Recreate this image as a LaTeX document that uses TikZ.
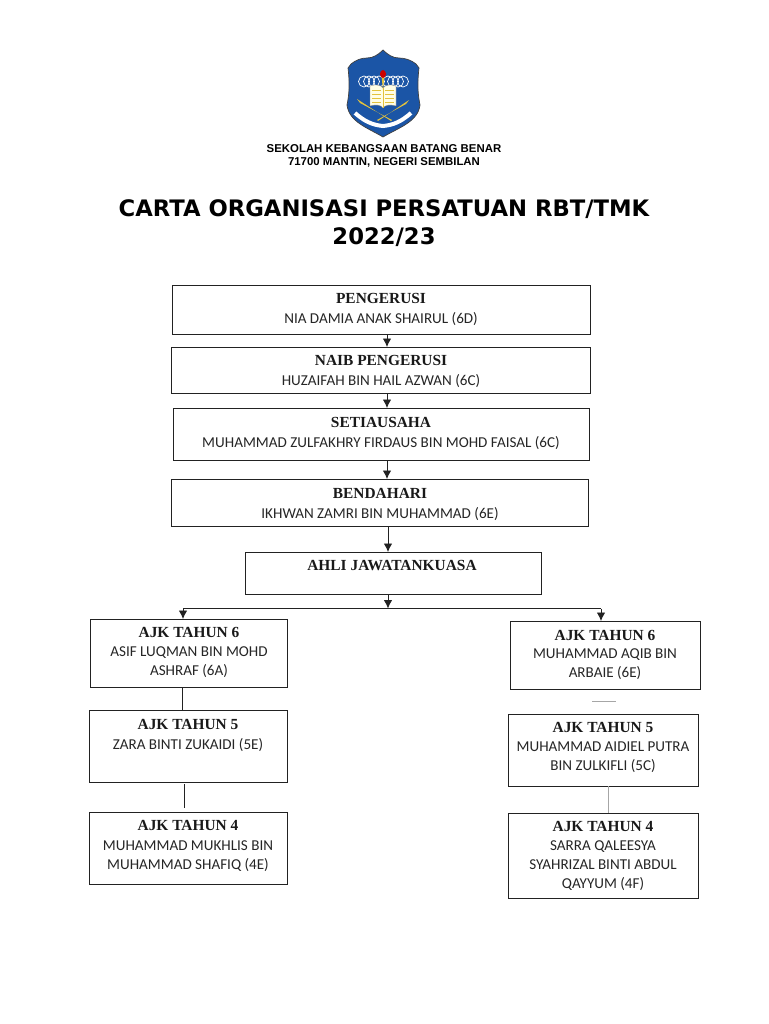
\documentclass[tikz,border=0pt]{standalone}
\usepackage{fontspec}
\setmainfont{Liberation Serif}
\newfontfamily\schoolf{Liberation Sans}
\newfontfamily\titlef{DejaVu Sans}
\newfontfamily\namef{Carlito}
\definecolor{shieldblue}{HTML}{1B55A6}
\definecolor{shieldgold}{HTML}{E3C23C}
\definecolor{edgeblack}{HTML}{222222}
\usetikzlibrary{arrows.meta}
\tikzset{
  orgbox/.style={draw=edgeblack,line width=0.9pt,fill=white,inner sep=0pt,outer sep=0pt},
  headtext/.style={font=\fontsize{15.4}{16}\selectfont\bfseries,text=black!90,inner sep=0pt},
  nametext/.style={font=\namef\fontsize{15.1}{19.3}\selectfont,text=black!85,align=center,inner sep=0pt,anchor=north,yshift=-3.7pt},
  arr/.style={draw=edgeblack,line width=0.9pt,-{Latex[length=8.5pt,width=8.5pt]}},
  plain/.style={draw=edgeblack,line width=0.8pt},
  faint/.style={draw=black!35,line width=1pt}
}
\newcommand{\orgnode}[5]{% name, left, top, right, bottom
  \node[orgbox,minimum width=#4pt-#2pt,minimum height=#5pt-#3pt,anchor=north west] (#1) at (#2,#3) {};}
\begin{document}
\begin{tikzpicture}[x=1pt,y=-1pt]
\useasboundingbox[fill=white] (0,0) rectangle (768,1024);
% crest
\fill[shieldblue,draw=black!75,line width=0.7pt] (383,50) .. controls (378,55) and (373,58) .. (367,58)
  .. controls (361,58) and (356,60) .. (351,64) -- (348,68)
  .. controls (350,85) and (349,95) .. (347,105) .. controls (349,122) and (368,128) .. (383,137)
  .. controls (398,128) and (418,122) .. (420,105) .. controls (418,95) and (417,85) .. (419,68) -- (416,64)
  .. controls (411,60) and (405,58) .. (399,58) .. controls (393,58) and (388,55) .. (383,50) -- cycle;
\foreach \cx in {364,369,374,379,388,393,398,403}{\draw[white,line width=0.7pt] (\cx,81.5) circle (5.5);}
\fill[white!90!yellow,draw=black!50,line width=0.3pt] (370,86) .. controls (376,84) and (381,85) .. (383,88) .. controls (385,85) and (390,84) .. (396,86) -- (396,106) .. controls (390,104) and (385,105) .. (383,108) .. controls (381,105) and (376,104) .. (370,106) -- cycle;
\draw[shieldgold,line width=0.4pt] (383,88) -- (383,108);
\foreach \ly in {90,94,98,102}{\draw[shieldgold,line width=0.3pt] (372,\ly) -- (381,\ly) (385,\ly) -- (394,\ly);}
\fill[shieldgold] (381.5,76) -- (384.5,76) -- (383,90) -- cycle;
\fill[red!80!black] (383,74) ellipse (3 and 4);
\fill[shieldgold] (357,99) -- (360,103) -- (392,120) -- (391,121) -- cycle;
\fill[shieldgold] (409,100) -- (406,104) -- (377,120) -- (378,121) -- cycle;
\draw[white,line width=4pt] (355,113) .. controls (364,121) and (372,125) .. (383,126) .. controls (394,125) and (402,121) .. (411,113);
% headings
\node[font=\schoolf\fontsize{11.4}{12.2}\selectfont\bfseries,align=center,inner sep=0pt] (school) at (384,156) {SEKOLAH KEBANGSAAN BATANG BENAR\\71700 MANTIN, NEGERI SEMBILAN};
\node[font=\titlef\fontsize{22.7}{28}\selectfont\bfseries,align=center,inner sep=0pt] (title) at (384,223) {CARTA ORGANISASI PERSATUAN RBT/TMK\\2022/23};
% boxes
\orgnode{pengerusi}{172}{285}{590}{334}
\orgnode{naib}{171}{347}{590}{393}
\orgnode{setia}{173}{408}{589}{460}
\orgnode{benda}{171}{479}{588}{526}
\orgnode{ahli}{245}{552}{541}{594}
\orgnode{lsix}{90}{619}{287}{687}
\orgnode{lfive}{89}{710}{287}{782}
\orgnode{lfour}{89}{812}{287}{884}
\orgnode{rsix}{510}{621}{700}{689}
\orgnode{rfive}{508}{714}{698}{786}
\orgnode{rfour}{508}{813}{698}{898}
% box texts
\node[headtext] (t1) at (381,298.5) {PENGERUSI};
\node[nametext] (n1) at (381,308.5) {NIA DAMIA ANAK SHAIRUL (6D)};
\node[headtext] (t2) at (381,360.5) {NAIB PENGERUSI};
\node[nametext] (n2) at (381,370.5) {HUZAIFAH BIN HAIL AZWAN (6C)};
\node[headtext] (t3) at (381,422.5) {SETIAUSAHA};
\node[nametext] (n3) at (381,432.5) {MUHAMMAD ZULFAKHRY FIRDAUS BIN MOHD FAISAL (6C)};
\node[headtext] (t4) at (380,493.5) {BENDAHARI};
\node[nametext] (n4) at (380,503.5) {IKHWAN ZAMRI BIN MUHAMMAD (6E)};
\node[headtext] (t5) at (392,565.5) {AHLI JAWATANKUASA};
\node[headtext] (t6) at (189,632.5) {AJK TAHUN 6};
\node[nametext] (n6) at (189,642.5) {ASIF LUQMAN BIN MOHD\\ASHRAF (6A)};
\node[headtext] (t7) at (188,724.5) {AJK TAHUN 5};
\node[nametext] (n7) at (188,734.5) {ZARA BINTI ZUKAIDI (5E)};
\node[headtext] (t8) at (188,825.5) {AJK TAHUN 4};
\node[nametext] (n8) at (188,836.5) {MUHAMMAD MUKHLIS BIN\\MUHAMMAD SHAFIQ (4E)};
\node[headtext] (t9) at (605,635.5) {AJK TAHUN 6};
\node[nametext] (n9) at (605,644.5) {MUHAMMAD AQIB BIN\\ARBAIE (6E)};
\node[headtext] (t10) at (603,727.5) {AJK TAHUN 5};
\node[nametext] (n10) at (603,737.5) {MUHAMMAD AIDIEL PUTRA\\BIN ZULKIFLI (5C)};
\node[headtext] (t11) at (603,826.5) {AJK TAHUN 4};
\node[nametext] (n11) at (603,836.5) {SARRA QALEESYA\\SYAHRIZAL BINTI ABDUL\\QAYYUM (4F)};
% connectors
\draw[arr] (pengerusi.south -| 387,0) -- (naib.north -| 387,0);
\draw[arr] (naib.south -| 387,0) -- (setia.north -| 387,0);
\draw[arr] (setia.south -| 387,0) -- (benda.north -| 387,0);
\draw[arr] (benda.south -| 388,0) -- (ahli.north -| 388,0);
\coordinate (bus) at (388,608.5);
\draw[arr] (ahli.south -| bus) -- (bus);
\draw[plain] (bus) -- (bus -| 183,0);
\draw[plain] (bus) -- (bus -| 601,0);
\draw[arr] (bus -| 183,0) -- (lsix.north -| 183,0);
\draw[arr] (bus -| 601,0) -- (rsix.north -| 601,0);
\draw[plain] (lsix.south -| 182,0) -- (lfive.north -| 182,0);
\coordinate (lgapa) at (184,784);
\coordinate (lgapb) at (184,808);
\draw[plain] (lgapa) -- (lgapb);
\coordinate (rgapa) at (592,701);
\coordinate (rgapb) at (616,701);
\draw[faint] (rgapa) -- (rgapb);
\draw[faint] (rfive.south -| 608,0) -- (rfour.north -| 608,0);
\end{tikzpicture}
\end{document}
